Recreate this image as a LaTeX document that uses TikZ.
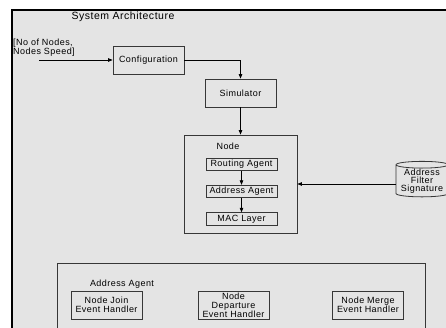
\documentclass[tikz,border=0pt]{standalone}
\usepackage{fontspec}
\setmainfont[LetterSpace=5]{Liberation Sans}
\usetikzlibrary{arrows.meta,shapes.geometric}

\definecolor{bggray}{RGB}{228,228,228}
\definecolor{linegray}{RGB}{55,55,55}

\tikzset{
    block/.style={draw=linegray, line width=0.8pt, minimum width=71pt, minimum height=28pt,
        inner sep=1pt, align=center, font=\fontsize{9}{9}\selectfont},
    agent/.style={block, minimum height=12.5pt},
    container/.style={draw=linegray, line width=0.8pt},
    label/.style={font=\fontsize{9}{9}\selectfont, inner sep=1pt},
    store/.style={cylinder, shape border rotate=90, aspect=0.16, draw=linegray, line width=0.8pt,
        minimum width=52pt, minimum height=34pt, inner sep=0pt, align=center,
        font=\fontsize{9}{8.3}\selectfont},
    arrow/.style={draw=black, line width=0.7pt, -{Triangle[length=4.5pt,width=3.5pt]}}
}

\begin{document}
\begin{tikzpicture}[x=10pt,y=-10pt]
    \useasboundingbox (0,0) rectangle (44.6,32.8);

    % Background and frame
    \fill[bggray] (1.2,1.0) rectangle (44.6,32.8);
    \draw[line width=2pt] (1.2,33.0) -- (1.2,1.0) -- (44.6,1.0);

    % Title
    \node[label] (title) at (12.3,1.65) {\fontsize{10.5}{12}\selectfont System Architecture};

    % Input parameters
    \node[label, anchor=west, align=left, inner sep=0pt] (input) at (1.3,4.75) {[No of Nodes,\\Nodes Speed]};
    \coordinate (start) at (3.9,6.0);

    % Main flow
    \node[block] (config) at (14.85,6.0) {Configuration};
    \node[block] (sim) at (24.05,9.3) {Simulator};

    % Node with its agents
    \node[container, minimum width=113pt, minimum height=98pt] (nodebox) at (24.05,18.4) {};
    \node[label] (nodelabel) at (22.8,14.6) {Node};
    \node[agent] (routing) at (24.15,16.45) {Routing Agent};
    \node[agent] (address) at (24.15,19.15) {Address Agent};
    \node[agent] (mac) at (24.15,21.9) {MAC Layer};

    % Signature store
    \node[store] (sig) at (42.2,18.1) {Address\\Filter\\Signature};

    % Arrows
    \draw[arrow] (start) -- (config);
    \draw[arrow] (config) -| (sim);
    \draw[arrow] (sim) -- (nodebox);
    \draw[arrow] (routing) -- (address);
    \draw[arrow] (address) -- (mac);
    \draw[arrow] (sig.west |- nodebox.east) -- (nodebox.east);

    % Address agent detail
    \node[container, minimum width=368pt, minimum height=80pt, anchor=north west] (agentbox) at (5.7,26.3) {};
    \node[label] (agentlabel) at (12.2,28.4) {Address Agent};
    \node[block] (join) at (10.65,30.5) {Node Join\\Event Handler};
    \node[block] (depart) at (23.35,30.5) {Node\\Departure\\Event Handler};
    \node[block] (merge) at (36.8,30.5) {Node Merge\\Event Handler};

\end{tikzpicture}
\end{document}
